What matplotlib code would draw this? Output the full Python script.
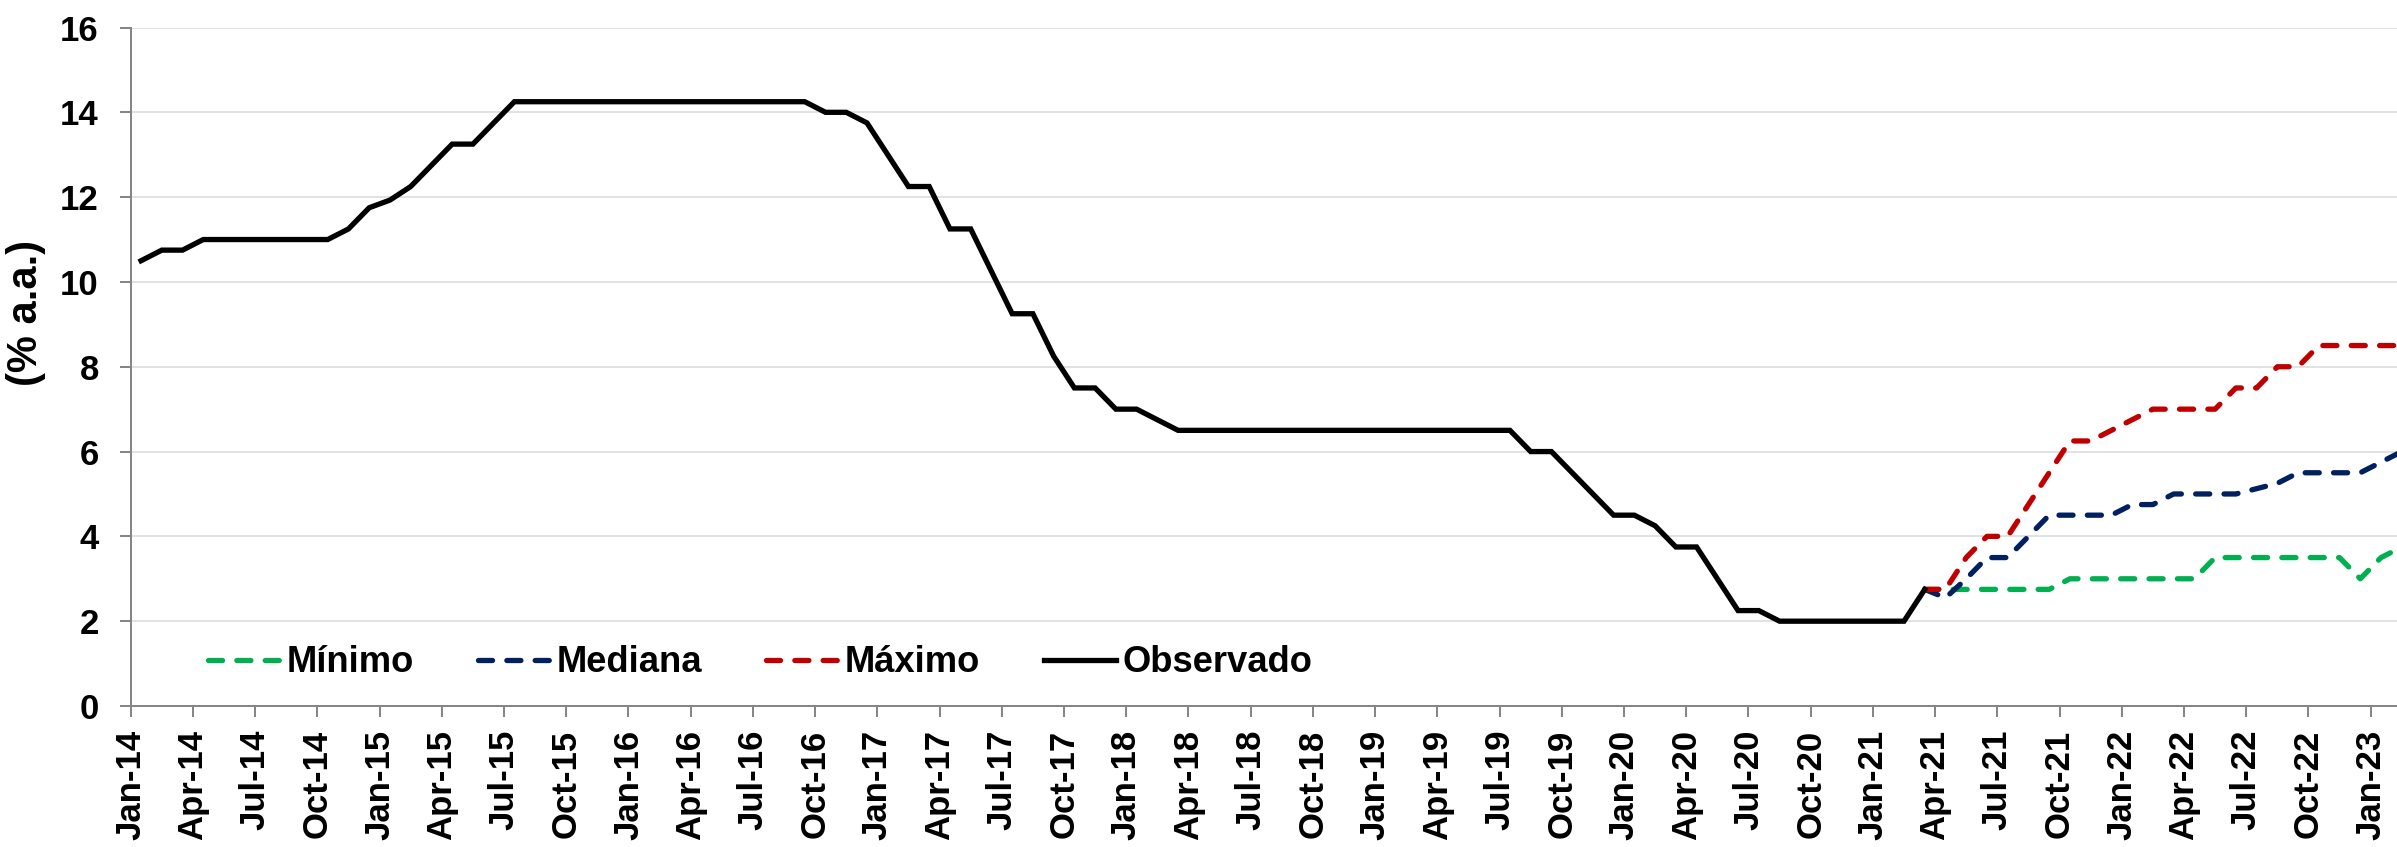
import matplotlib
matplotlib.use("Agg")
import matplotlib.pyplot as plt
import numpy as np
import pandas as pd

plt.rcParams["font.family"] = ["Liberation Sans", "DejaVu Sans"]
plt.rcParams["font.weight"] = "bold"

# Monthly categories Jan-14 .. Feb-23
months = pd.date_range("2014-01-01", "2023-02-01", freq="MS")
month_labels = [d.strftime("%b-%y") for d in months]

# Observed policy rate, Jan-14 .. Mar-21 (% a.a.)
observado = [
    10.5, 10.75, 10.75, 11.0, 11.0, 11.0, 11.0, 11.0, 11.0, 11.0, 11.25, 11.75,
    11.93, 12.25, 12.75, 13.25, 13.25, 13.75, 14.25, 14.25, 14.25, 14.25, 14.25, 14.25,
    14.25, 14.25, 14.25, 14.25, 14.25, 14.25, 14.25, 14.25, 14.25, 14.0, 14.0, 13.75,
    13.0, 12.25, 12.25, 11.25, 11.25, 10.25, 9.25, 9.25, 8.25, 7.5, 7.5, 7.0,
    7.0, 6.75, 6.5, 6.5, 6.5, 6.5, 6.5, 6.5, 6.5, 6.5, 6.5, 6.5,
    6.5, 6.5, 6.5, 6.5, 6.5, 6.5, 6.5, 6.0, 6.0, 5.5, 5.0, 4.5,
    4.5, 4.25, 3.75, 3.75, 3.0, 2.25, 2.25, 2.0, 2.0, 2.0, 2.0, 2.0,
    2.0, 2.0, 2.75,
]

# Expectations, Mar-21 .. Feb-23 (% a.a.)
minimo = [
    2.75, 2.75, 2.75, 2.75, 2.75, 2.75, 2.75, 3.0, 3.0, 3.0, 3.0, 3.0,
    3.0, 3.0, 3.5, 3.5, 3.5, 3.5, 3.5, 3.5, 3.5, 3.0, 3.5, 3.75,
]
mediana = [
    2.75, 2.55, 3.0, 3.5, 3.5, 4.0, 4.5, 4.5, 4.5, 4.5, 4.75, 4.75,
    5.0, 5.0, 5.0, 5.0, 5.125, 5.25, 5.5, 5.5, 5.5, 5.5, 5.75, 6.0,
]
maximo = [
    2.75, 2.75, 3.5, 4.0, 4.0, 4.75, 5.5, 6.25, 6.25, 6.5, 6.75, 7.0,
    7.0, 7.0, 7.0, 7.5, 7.5, 8.0, 8.0, 8.5, 8.5, 8.5, 8.5, 8.5,
]

# points sit in the middle of each month slot
x_obs = np.arange(len(observado)) + 0.5
x_fc = np.arange(len(observado) - 1, len(observado) - 1 + len(minimo)) + 0.5

W, H, DPI = 2397, 847, 100
fig = plt.figure(figsize=(W / DPI, H / DPI), dpi=DPI)
ax = fig.add_axes([130.7 / W, 1 - 706 / H, 1 - 130.7 / W, (706 - 27.5) / H])

px = 72 / DPI  # points per pixel
dash_kw = dict(linewidth=5.3 * px, dashes=(2.65, 2.7), dash_capstyle="round")
ax.plot(x_fc, minimo, color="#00B050", label="Mínimo", **dash_kw)
ax.plot(x_fc, mediana, color="#002060", label="Mediana", **dash_kw)
ax.plot(x_fc, maximo, color="#C00000", label="Máximo", **dash_kw)
ax.plot(x_obs, observado, color="black", linewidth=5.3 * px,
        solid_joinstyle="miter", label="Observado")

ax.set_xlim(0, 109.27)
ax.set_ylim(0, 16)
ax.set_yticks(np.arange(0, 17, 2))
ax.set_xticks(np.arange(0, len(months), 3))
ax.set_xticklabels(month_labels[::3], rotation=90, ha="center", va="top")

ax.grid(axis="y", color="#D9D9D9", linewidth=1.5 * px)
ax.set_axisbelow(True)
for side in ("top", "right"):
    ax.spines[side].set_visible(False)
for side in ("left", "bottom"):
    ax.spines[side].set_color("#868686")
    ax.spines[side].set_linewidth(2 * px)
ax.tick_params(axis="both", colors="#868686", width=2 * px, length=11 * px,
               labelcolor="black", labelsize=25)
ax.tick_params(axis="y", pad=15)
ax.tick_params(axis="x", pad=9)

fig.text(26 / W, 1 - 313 / H, "(% a.a.)", rotation=90, ha="center", va="center",
         fontsize=30, fontweight="bold")

ax.legend(loc="center left", bbox_to_anchor=(208 / W, 1 - 663 / H),
          bbox_transform=fig.transFigure, ncol=4, frameon=False, fontsize=26.2,
          handlelength=1.98, handletextpad=0.19, columnspacing=1.75,
          borderpad=0, borderaxespad=0)

fig.savefig("out.png", dpi=DPI)
